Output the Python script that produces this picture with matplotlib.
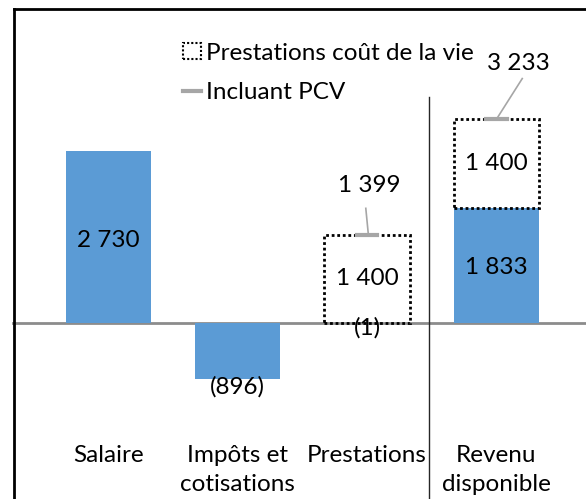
import matplotlib.pyplot as plt
from matplotlib.lines import Line2D
from matplotlib.patches import Patch

plt.rcParams['font.family'] = ['Lato', 'DejaVu Sans']

categories = ['Salaire', 'Impôts et\ncotisations', 'Prestations', 'Revenu\ndisponible']
base = [2730, -896, -1, 1833]          # bleu (ou contour seul pour les prestations)
pcv = [0, 0, 1400, 1400]               # prestations coût de la vie
incl_pcv = [None, None, 1399, 3233]    # total incluant PCV
base_labels = ['2 730', '(896)', '(1)', '1 833']
pcv_labels = ['', '', '1 400', '1 400']
incl_labels = ['', '', '1 399', '3 233']

blue = '#5B9BD5'
grey = '#A6A6A6'
W, H = 586, 499

fig = plt.figure(figsize=(W / 100, H / 100), dpi=100)
ax = fig.add_axes([0, 0, 1, 1])
ax.set_xlim(-0.839, 3.693)
ax.set_ylim(-2794, 5127)
ax.axis('off')
fs = 17.5
x = range(len(categories))
bw = 0.66

# baseline
ax.axhline(0, xmin=13 / W, color='#8C8C8C', lw=2, zorder=1)

for i in x:
    if i < 2 or i == 3:
        ax.bar(i, base[i], width=bw, color=blue, zorder=2)
    if pcv[i]:
        bottom = base[i] if i == 3 else 0
        ax.bar(i, pcv[i], bottom=bottom, width=bw, facecolor='none',
               edgecolor='black', linestyle=(0, (1, 1)), lw=2, zorder=3)
        ax.text(i, bottom + pcv[i] / 2, pcv_labels[i], ha='center', va='center', fontsize=fs)
    if incl_pcv[i] is not None:
        ax.plot([i - 0.08, i + 0.08], [incl_pcv[i]] * 2, color=grey, lw=3, zorder=4)

# value labels
ax.text(0, base[0] / 2 - 50, base_labels[0], ha='center', va='center', fontsize=fs)
ax.text(1, -1016, base_labels[1], ha='center', va='center', fontsize=fs)
ax.text(2, -80, base_labels[2], ha='center', va='center', fontsize=fs)
ax.text(3, base[3] / 2 - 40, base_labels[3], ha='center', va='center', fontsize=fs)

# leader lines to totals
ax.plot([2.01, 1.99], [1399, 1820], color=grey, lw=1.2, zorder=4)
ax.text(2.02, 2190, incl_labels[2], ha='center', va='center', fontsize=fs)
ax.plot([3.0, 3.2], [3233, 3880], color=grey, lw=1.2, zorder=4)
ax.text(3.17, 4120, incl_labels[3], ha='center', va='center', fontsize=fs)

# category labels
for i in x:
    ax.text(i, -1940, categories[i], ha='center', va='top', fontsize=fs, linespacing=1.45)

# separator
ax.plot([2.48, 2.48], [3580, -2794], color='#262626', lw=1, zorder=1)

# legend
handles = [Patch(facecolor='white', edgecolor='black', linestyle=(0, (1, 1)), lw=1.5),
           Line2D([], [], color=grey, lw=3)]
ax.legend(handles, ['Prestations coût de la vie', 'Incluant PCV'], loc='upper left',
          bbox_to_anchor=(173 / W, 1 - 33 / H), frameon=False, fontsize=fs,
          handlelength=0.75, handleheight=0.6, handletextpad=0.2, labelspacing=0.76,
          borderaxespad=0)

# chart frame (top and left edges visible)
fig.add_artist(Line2D([13.5 / W, 13.5 / W], [0, 1 - 9 / H], color='black', lw=2))
fig.add_artist(Line2D([13.5 / W, 1], [1 - 9 / H, 1 - 9 / H], color='black', lw=2))

fig.savefig('out.png', dpi=100)
